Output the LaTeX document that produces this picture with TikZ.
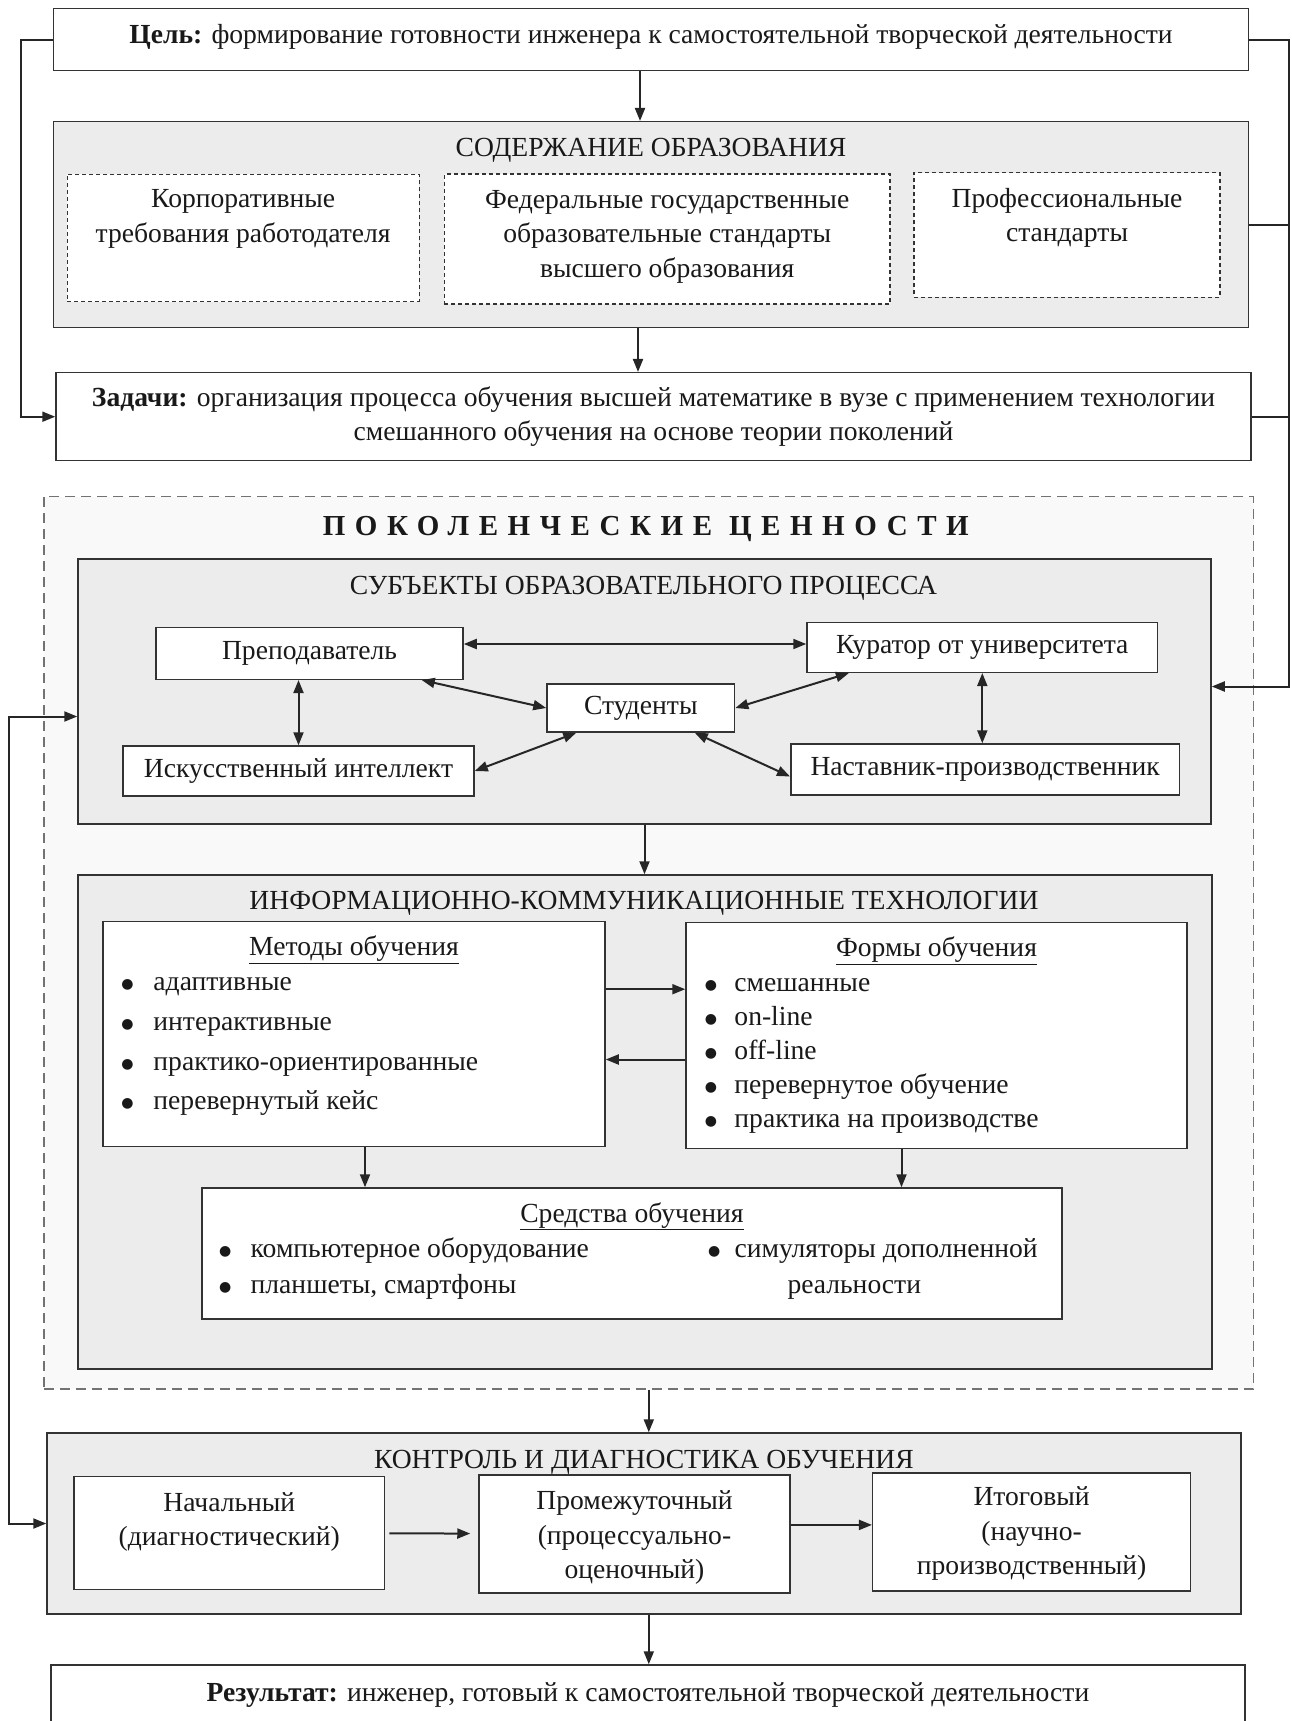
\documentclass[tikz,border=0pt]{standalone}
\usepackage{fontspec}
\setmainfont{Liberation Serif}
\newfontfamily\bulfont{DejaVu Sans}
\usetikzlibrary{arrows.meta,calc}

\newcommand\blt[1][32pt]{\makebox[#1][l]{\raisebox{2pt}{\bulfont\fontsize{14}{14}\selectfont ●}}}

\tikzset{
  every node/.style={font=\fontsize{27.6}{34.5}\selectfont, text=black!90, inner sep=0pt},
  box/.style={rectangle, draw=black!80, fill=white, line width=1.5pt},
  panel/.style={box, fill=gray!15},
  dbox/.style={box, line width=1.1pt, dash pattern=on 4pt off 3pt},
  zone/.style={rectangle, draw=black!55, fill=gray!5, line width=1.2pt, dash pattern=on 10pt off 6pt},
  link/.style={draw=black!85, line width=2pt},
  arr/.style={link, -{Triangle[length=13pt,width=10pt]}},
  arrs/.style={link, {Triangle[length=13pt,width=10pt]}-{Triangle[length=13pt,width=10pt]}},
  headtext/.style={align=center},
  bullitem/.style={anchor=west, text height=20pt, text depth=7pt},
}

\begin{document}
\begin{tikzpicture}[x=1pt,y=-1pt]
  \useasboundingbox (0,0) rectangle (1291,1721);

  % Goal, content and tasks
  \node[box, minimum width=1195pt, minimum height=62pt, text depth=12pt] (goal) at (651,39.5)
    {\textbf{Цель:} формирование готовности инженера к самостоятельной творческой деятельности};
  \node[panel, minimum width=1195pt, minimum height=206pt] (content) at (651,224.7) {};
  \node[headtext] (contenttitle) at ($(content.north)+(0,29)$) {СОДЕРЖАНИЕ ОБРАЗОВАНИЯ};
  \node[dbox, minimum width=351.7pt, minimum height=127.7pt] (corp) at (243.2,237.9) {};
  \node[dbox, minimum width=445.6pt, minimum height=130pt] (fgos) at (667.2,239) {};
  \node[dbox, minimum width=306pt, minimum height=124.3pt] (prof) at (1067,234.9) {};
  \node[headtext] (corptext) at ($(corp)+(0,-19)$) {Корпоративные\\требования работодателя};
  \node[headtext] (fgostext) at ($(fgos)+(0,-2.5)$) {Федеральные государственные\\образовательные стандарты\\высшего образования};
  \node[headtext] (proftext) at ($(prof)+(0,-17)$) {Профессиональные\\стандарты};
  \node[box, minimum width=1195pt, minimum height=88pt, align=center] (tasks) at (653.5,416.7)
    {\textbf{Задачи:} организация процесса обучения высшей математике в вузе с применением технологии\\смешанного обучения на основе теории поколений};

  \draw[arr] ($(goal.south)+(-11,0)$) coordinate (g1) -- (g1 |- content.north);
  \draw[arr] ($(content.south)+(-13,0)$) coordinate (c1) -- (c1 |- tasks.north);

  % Generational values zone
  \node[zone, minimum width=1209.5pt, minimum height=892.3pt] (zone) at (648.8,942.9) {};
  \node[headtext, font=\fontsize{29}{34}\selectfont\bfseries\addfontfeature{LetterSpace=33}] (zonetitle)
    at ($(zone.north)+(-3,33)$) {ПОКОЛЕНЧЕСКИЕ ЦЕННОСТИ};

  % Subjects of the process
  \node[panel, minimum width=1133pt, minimum height=265pt] (subj) at (644.5,691.5) {};
  \node[headtext] (subjtitle) at ($(subj.north)+(-1,30)$) {СУБЪЕКТЫ ОБРАЗОВАТЕЛЬНОГО ПРОЦЕССА};
  \node[box, minimum width=307pt, minimum height=51.6pt] (teacher) at (309.5,653.5) {Преподаватель};
  \node[box, minimum width=350.6pt, minimum height=49.6pt] (curator) at (982.3,647.5) {Куратор от университета};
  \node[box, minimum width=187.6pt, minimum height=48pt] (students) at (640.8,708) {Студенты};
  \node[box, minimum width=351pt, minimum height=50pt] (ai) at (298.5,771) {Искусственный интеллект};
  \node[box, minimum width=388.9pt, minimum height=51pt] (mentor) at (985.2,769.5) {Наставник-производственник};

  \draw[arrs] ($(teacher.east)+(0,-9.5)$) coordinate (t1) -- (t1 -| curator.west);
  \draw[arrs] (ai.north) -- (ai.north |- teacher.south);
  \draw[arrs] (curator.south) -- (curator.south |- mentor.north);
  \draw[arrs] ($(teacher.south east)+(-42,0)$) -- (students.west);
  \draw[arrs] (ai.east) -- ($(students.south west)+(30,0)$);
  \draw[arrs] (students.east) -- ($(curator.south west)+(42.6,0)$);
  \draw[arrs] ($(students.south east)+(-40.6,0)$) -- ($(mentor.west)+(0,7)$);

  % ICT
  \node[panel, minimum width=1134pt, minimum height=494pt] (ict) at (645,1122) {};
  \node[headtext] (icttitle) at ($(ict.north)+(-1,29)$) {ИНФОРМАЦИОННО-КОММУНИКАЦИОННЫЕ ТЕХНОЛОГИИ};
  \node[box, minimum width=502pt, minimum height=225pt] (methods) at (354,1034.2) {};
  \node[box, minimum width=501pt, minimum height=225.6pt] (forms) at (936.5,1035.5) {};
  \node[box, minimum width=860.3pt, minimum height=131pt] (means) at (631.9,1253.5) {};

  \node[headtext] (mtitle) at ($(methods.north)+(0,29)$) {\underline{Методы обучения}};
  \foreach \txt [count=\i] in {адаптивные, интерактивные, практико-ориентированные, перевернутый кейс}
    \node[bullitem] (mi\i) at ($(methods.north west)+(19,{63.3+39.7*(\i-1)})$) {\blt\txt};

  \node[headtext] (ftitle) at ($(forms.north)+(0,29)$) {\underline{Формы обучения}};
  \foreach \txt [count=\i] in {смешанные, on-line, off-line, перевернутое обучение, практика на производстве}
    \node[bullitem] (fi\i) at ($(forms.north west)+(19.5,{63.3+34*(\i-1)})$) {\blt[29.5pt]\txt};

  \node[headtext] (stitle) at ($(means.north)+(0,29)$) {\underline{Средства обучения}};
  \node[bullitem] (si1) at ($(means.north west)+(18,64)$) {\blt[31.5pt]компьютерное оборудование};
  \node[bullitem] (si2) at ($(means.north west)+(18,100)$) {\blt[31.5pt]планшеты, смартфоны};
  \node[bullitem] (si3) at ($(means.north west)+(506.8,64)$) {\blt[26.5pt]симуляторы дополненной};
  \node[bullitem, anchor=center] (si4) at ($(means.north west)+(653.3,100)$) {реальности};

  \draw[arr] ($(methods.east)+(0,-45)$) coordinate (m1) -- (m1 -| forms.west);
  \draw[arr] ($(forms.west)+(0,24)$) coordinate (f1) -- (f1 -| methods.east);
  \draw[arr] ($(methods.south)+(11,0)$) coordinate (m2) -- (m2 |- means.north);
  \draw[arr] ($(forms.south)+(-35,0)$) coordinate (f2) -- (f2 |- means.north);
  \draw[arr] (subj.south) -- (subj.south |- ict.north);

  % Control and result
  \node[panel, minimum width=1193.7pt, minimum height=181pt] (control) at (643.9,1523.5) {};
  \node[headtext] (controltitle) at ($(control.north)+(0,30)$) {КОНТРОЛЬ И ДИАГНОСТИКА ОБУЧЕНИЯ};
  \node[box, minimum width=310.5pt, minimum height=112.6pt] (initial) at (229.3,1533) {};
  \node[box, minimum width=311pt, minimum height=117.7pt] (interm) at (634.5,1533.9) {};
  \node[box, minimum width=317.8pt, minimum height=117.7pt] (final) at (1031.6,1531.9) {};
  \node[headtext] (inittext) at ($(initial)+(0,-11)$) {Начальный\\(диагностический)};
  \node[headtext] (midtext) at ($(interm)+(0,4)$) {Промежуточный\\(процессуально-\\оценочный)};
  \node[headtext] (fintext) at ($(final)+(0,2)$) {Итоговый\\(научно-\\производственный)};
  \draw[arr, shorten <=4pt, shorten >=8pt] (initial) -- (interm);
  \draw[arr] ($(interm.east)+(0,-9)$) coordinate (p1) -- (p1 -| final.west);

  \node[box, minimum width=1194pt, minimum height=60pt] (result) at (648,1695)
    {\textbf{Результат:} инженер, готовый к самостоятельной творческой деятельности};

  \draw[arr] (zone.south) -- (zone.south |- control.north);
  \draw[arr] (zone.south |- control.south) -- (zone.south |- result.north);

  % Feedback lines
  \coordinate (lx) at (21,0);
  \coordinate (rx) at (1289,0);
  \coordinate (lx2) at (9,0);
  \draw[arr] (goal.west) -| (lx |- tasks.west) -- (tasks.west);
  \coordinate (rin) at ([yshift=5pt]subj.east);
  \draw[arr] (goal.east) -| (rx |- rin) -- (rin);
  \draw[link] (content.east) -- (content.east -| rx);
  \draw[link] (tasks.east) -- (tasks.east -| rx);
  \coordinate (lin) at ([yshift=-25pt]subj.west);
  \draw[arrs] (lin) -| (lx2 |- control.west) -- (control.west);
\end{tikzpicture}
\end{document}
